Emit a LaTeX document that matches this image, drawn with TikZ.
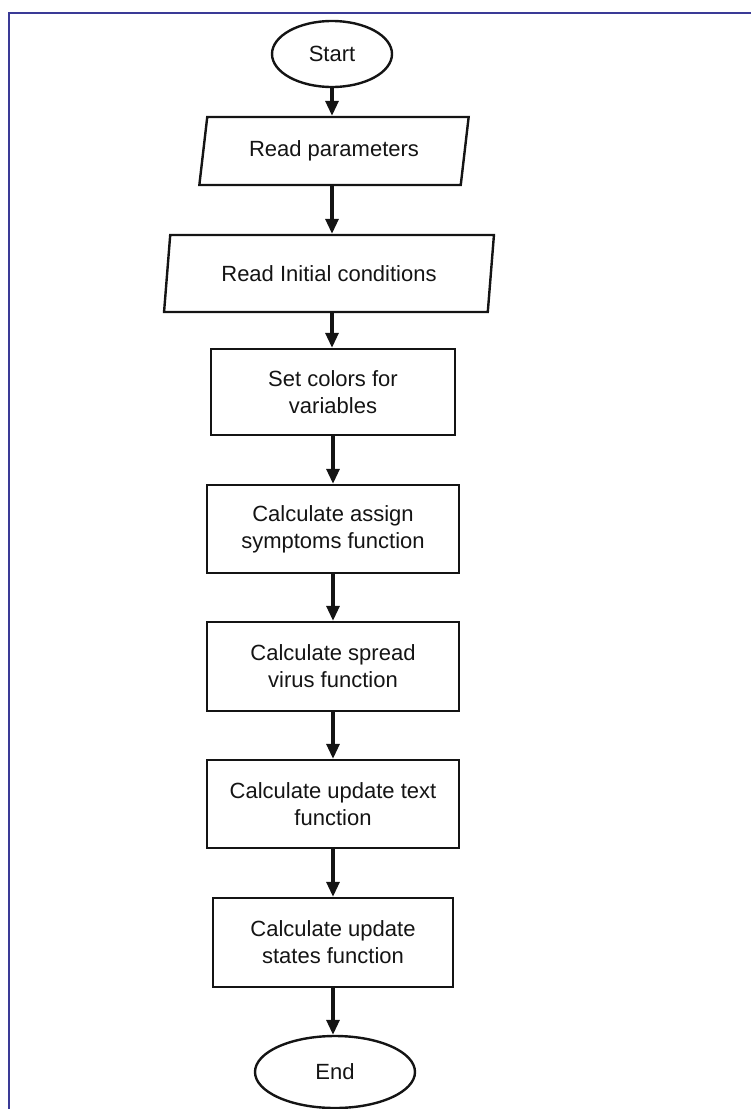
\documentclass[tikz,border=0pt]{standalone}
\usepackage{fontspec}
\setmainfont{Liberation Sans}
\usetikzlibrary{shapes.geometric,arrows.meta}
\definecolor{frameblue}{RGB}{58,58,150}
\definecolor{ink}{RGB}{20,20,20}
\tikzset{
  every node/.style={font=\fontsize{22}{27}\selectfont, text=ink, align=center, inner sep=0pt},
  termbox/.style={ellipse, draw=ink, line width=2.4pt},
  iobox/.style={trapezium, trapezium stretches=true, trapezium left angle=75.5, trapezium right angle=104.5, draw=ink, line width=2.4pt},
  procbox/.style={rectangle, draw=ink, line width=2.4pt},
  flow/.style={draw=ink, line width=3.2pt, -{Triangle[length=15pt,width=13pt]}},
  framelines/.style={draw=frameblue, line width=2.6pt}
}
\begin{document}
\begin{tikzpicture}[x=1pt,y=-1pt]
\useasboundingbox (0,0) rectangle (751,1109);
\coordinate (fbl) at (9,1109);
\coordinate (ftl) at (9,13);
\coordinate (ftr) at (751,13);
\draw[framelines] (fbl) -- (ftl) -- (ftr);

\node[termbox, minimum width=120, minimum height=66] (start) at (332,54) {Start};
\node[iobox, minimum width=270, minimum height=68] (rp) at (334,151) {Read parameters};
\node[iobox, minimum width=330, minimum height=77] (ri) at (329,273.5) {Read Initial conditions};
\node[procbox, minimum width=244, minimum height=86] (sc) at (333,392) {Set colors for\\variables};
\node[procbox, minimum width=252, minimum height=88] (ca) at (333,529) {Calculate assign\\symptoms function};
\node[procbox, minimum width=252, minimum height=89] (cs) at (333,666.5) {Calculate spread\\virus function};
\node[procbox, minimum width=252, minimum height=88] (ct) at (333,804) {Calculate update text\\function};
\node[procbox, minimum width=240, minimum height=89] (cu) at (333,942.5) {Calculate update\\states function};
\node[termbox, minimum width=160, minimum height=72] (end) at (335,1072) {End};

\draw[flow] (start.south) -- (start.south |- rp.north);
\draw[flow] (start.south |- rp.south) -- (start.south |- ri.north);
\draw[flow] (start.south |- ri.south) -- (start.south |- sc.north);
\draw[flow] (sc.south) -- (ca.north);
\draw[flow] (ca.south) -- (cs.north);
\draw[flow] (cs.south) -- (ct.north);
\draw[flow] (ct.south) -- (cu.north);
\draw[flow] (cu.south) -- (cu.south |- end.north);
\end{tikzpicture}
\end{document}
